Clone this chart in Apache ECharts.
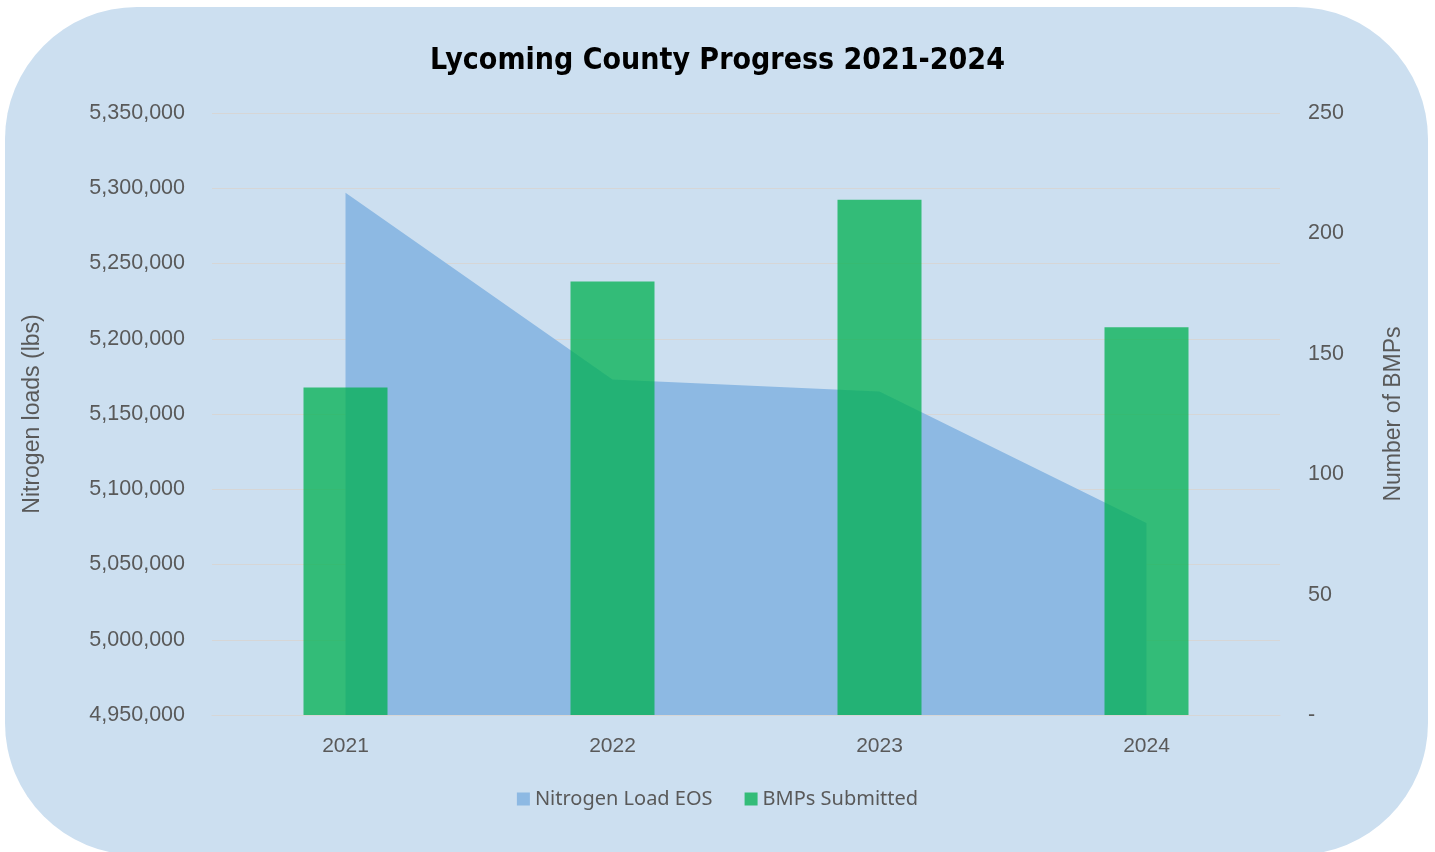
<!DOCTYPE html>
<html>
<head>
<meta charset="utf-8">
<script src="https://cdn.jsdelivr.net/npm/echarts@6/dist/echarts.min.js"></script>
<style>
html,body{margin:0;padding:0;background:#fff;width:1435px;height:852px;overflow:hidden;}
#bg{position:absolute;left:5px;top:7px;width:1423px;height:848px;border-radius:132px;background:#CCDFF0;}
#chart{position:absolute;left:0;top:0;width:1435px;height:852px;}
</style>
</head>
<body>
<div id="bg"></div>
<div id="chart"></div>
<script>
const years = ['2021', '2022', '2023', '2024'];
const nitrogenLoad = [5297000, 5173000, 5165000, 5077500];
const bmpsSubmitted = [136, 180, 214, 161];
const leftTicks = { min: 4950000, max: 5350000, interval: 50000 };
const rightTicks = { min: 0, max: 250, interval: 50 };

const chart = echarts.init(document.getElementById('chart'), null, { renderer: 'canvas' });
const axisFont = 'Liberation Sans, Arial, sans-serif';
chart.setOption({
  backgroundColor: 'transparent',
  animation: false,
  title: {
    text: 'Lycoming County Progress 2021-2024',
    left: 'center',
    top: 41,
    textStyle: { fontFamily: 'Liberation Sans Narrow, DejaVu Sans Condensed, sans-serif', fontWeight: 'bold', fontSize: 30, color: '#000' }
  },
  legend: {
    bottom: 38,
    left: 'center',
    itemWidth: 13,
    itemHeight: 13,
    itemGap: 32,
    icon: 'rect',
    textStyle: { fontFamily: 'Noto Sans, sans-serif', fontSize: 20, color: '#595959' },
    data: ['Nitrogen Load EOS', 'BMPs Submitted']
  },
  grid: { left: 212, right: 155, top: 113, bottom: 137 },
  xAxis: {
    type: 'category',
    data: years,
    boundaryGap: true,
    axisLine: { show: true, lineStyle: { color: '#D6D6D6', width: 1 } },
    axisTick: { show: false },
    axisLabel: { fontFamily: axisFont, fontSize: 21, color: '#595959', margin: 21 }
  },
  yAxis: [
    {
      type: 'value',
      min: leftTicks.min, max: leftTicks.max, interval: leftTicks.interval,
      name: 'Nitrogen loads (lbs)',
      nameLocation: 'middle',
      nameGap: 168,
      nameRotate: 90,
      nameTextStyle: { fontFamily: axisFont, fontSize: 23, color: '#595959' },
      axisLine: { show: false },
      axisTick: { show: false },
      splitLine: { lineStyle: { color: '#D6D6D6', width: 1 } },
      axisLabel: {
        fontFamily: axisFont, fontSize: 21.5, color: '#595959', margin: 27,
        formatter: v => v.toLocaleString('en-US')
      }
    },
    {
      type: 'value',
      min: rightTicks.min, max: rightTicks.max, interval: rightTicks.interval,
      name: 'Number of BMPs',
      nameLocation: 'middle',
      nameGap: 102,
      nameRotate: 90,
      nameTextStyle: { fontFamily: axisFont, fontSize: 23, color: '#595959' },
      axisLine: { show: false },
      axisTick: { show: false },
      splitLine: { show: false },
      axisLabel: {
        fontFamily: axisFont, fontSize: 21.5, color: '#595959', margin: 28,
        formatter: v => v === 0 ? '-' : String(v)
      }
    }
  ],
  series: [
    {
      name: 'Nitrogen Load EOS',
      type: 'line',
      yAxisIndex: 0,
      data: nitrogenLoad,
      symbol: 'none',
      lineStyle: { width: 0, color: '#8DB9E3' },
      itemStyle: { color: '#8DB9E3' },
      areaStyle: { color: '#8DB9E3', opacity: 1, origin: 'start' },
      z: 1
    },
    {
      name: 'BMPs Submitted',
      type: 'bar',
      yAxisIndex: 1,
      data: bmpsSubmitted,
      barWidth: 84,
      itemStyle: { color: 'rgba(0,176,80,0.75)' },
      z: 2
    }
  ]
});
</script>
</body>
</html>
